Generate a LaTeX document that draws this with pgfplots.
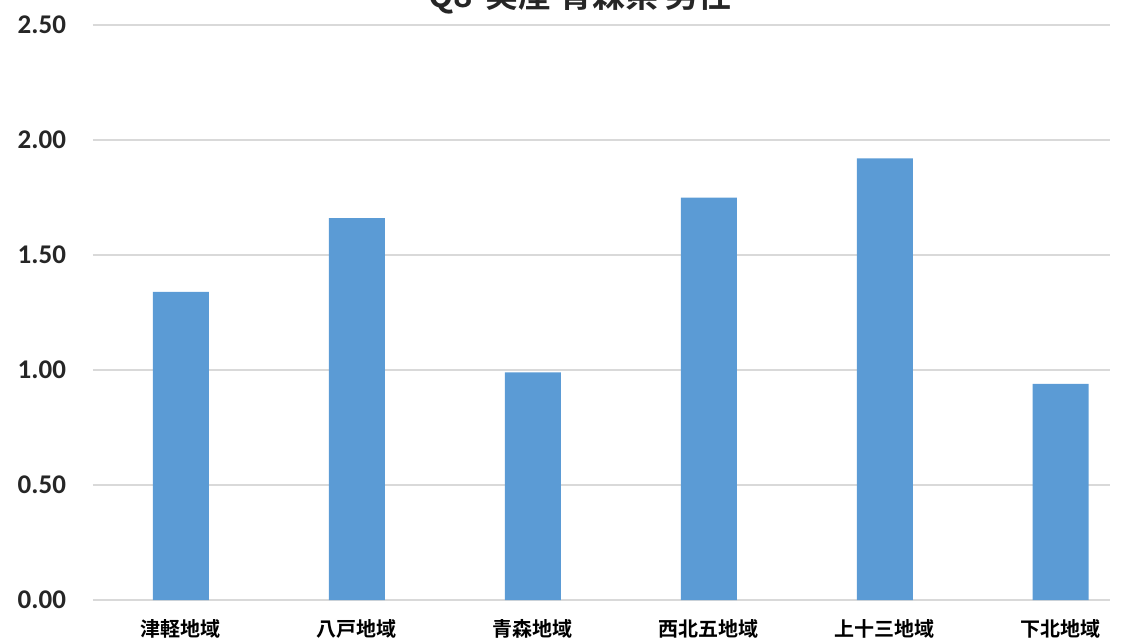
\documentclass[border=0pt]{standalone}
\usepackage{fontspec}
\setmainfont{Carlito}
\newfontfamily\cjk{Noto Sans CJK JP Bold}
\usepackage{pgfplots}
\pgfplotsset{compat=1.18}
\definecolor{barblue}{HTML}{5B9BD5}
\definecolor{gridgray}{HTML}{D9D9D9}
\definecolor{txt}{HTML}{262626}
\begin{document}
\begin{tikzpicture}
\begin{axis}[
  name=ax, at={(0,0)}, anchor=south west,
  scale only axis, width=508.5pt, height=287.5pt,
  xmin=-0.5, xmax=5.28, ymin=0, ymax=2.5,
  ytick={0,0.5,1,1.5,2,2.5},
  xtick=data,
  xticklabels={津軽地域,八戸地域,青森地域,西北五地域,上十三地域,下北地域},
  xticklabel style={font=\cjk\fontsize{10}{11}\selectfont, text=black, yshift=-6pt},
  yticklabel style={font=\bfseries\fontsize{13.5}{15}\selectfont, text=txt, xshift=-10pt},
  /pgf/number format/assume math mode=true,
  yticklabel={\pgfmathprintnumber[fixed,fixed zerofill,precision=2]{\tick}},
  major tick length=0,
  axis line style={draw=none},
  ymajorgrids, grid style={gridgray, line width=0.6pt},
  ybar, bar width=28pt,
  clip=false,
]
\addplot[fill=barblue, draw=none] coordinates {
  (0,1.34) (1,1.66) (2,0.99) (3,1.75) (4,1.92) (5,0.94)
};
\end{axis}
\node[anchor=base, font=\cjk\fontsize{16.5}{18}\selectfont, text=txt] at (243.5pt,296pt) {Q8-実産 青森県 男性};
\pgfresetboundingbox
\path[use as bounding box] (-46.5pt,-19.5pt) rectangle (515.5pt,300pt);
\end{tikzpicture}
\end{document}
